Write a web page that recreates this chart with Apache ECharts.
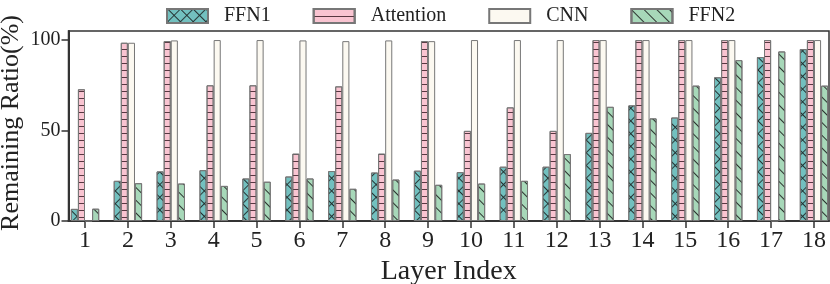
<!DOCTYPE html>
<html>
<head>
<meta charset="utf-8">
<script src="https://cdn.jsdelivr.net/npm/echarts@6/dist/echarts.min.js"></script>
<style>html,body{margin:0;padding:0;background:#fff}#c{width:830px;height:284px}</style>
</head>
<body>
<div id="c"></div>
<script>
const layers = [1,2,3,4,5,6,7,8,9,10,11,12,13,14,15,16,17,18];
const ffn1 = [6.7, 22.2, 27.4, 28.1, 23.5, 24.6, 27.6, 26.8, 27.8, 27.0, 30.0, 30.0, 48.7, 63.9, 57.2, 79.4, 90.6, 95.0];
const attention = [72.8, 98.5, 99.4, 75.0, 75.0, 37.2, 74.4, 37.2, 99.4, 49.8, 62.8, 49.8, 100, 100, 100, 100, 100, 100];
const cnn = [0, 98.5, 99.8, 100, 100, 99.8, 99.4, 99.8, 99.4, 100, 100, 100, 100, 100, 100, 100, 0, 100];
const ffn2 = [6.8, 20.9, 20.7, 19.4, 21.7, 23.5, 17.8, 22.9, 20.0, 20.7, 22.2, 37.0, 63.1, 56.7, 74.8, 88.9, 93.7, 74.8];
const yTicks = [0, 50, 100];
const seriesNames = ['FFN1', 'Attention', 'CNN', 'FFN2'];

const FONT = 'Liberation Serif';
const TXT = '#222';
const chart = echarts.init(document.getElementById('c'), null, {renderer: 'canvas'});

const hatchColor = 'rgba(20,20,20,0.85)';
const decals = {
  FFN1: {symbol: 'path://M0,0H1V10H0Z M0,9H10V10H0Z', dashArrayX: [9, 0], dashArrayY: [9, 0], rotation: Math.PI / 4, color: hatchColor, symbolSize: 1, symbolKeepAspect: false},
  Attention: {symbol: 'rect', dashArrayX: [1, 0], dashArrayY: [1, 6], rotation: 0, color: 'rgba(60,30,40,0.85)'},
  FFN2: {symbol: 'rect', dashArrayX: [1, 0], dashArrayY: [1, 8], rotation: Math.PI / 4, color: hatchColor}
};
const colors = {FFN1: '#72c0bf', Attention: '#f9c4d1', CNN: '#fcf9f1', FFN2: '#a7d8b9'};
const values = {FFN1: ffn1, Attention: attention, CNN: cnn, FFN2: ffn2};

const series = seriesNames.map(name => ({
  name: name,
  type: 'bar',
  barWidth: 7.1,
  barGap: '0%',
  data: layers.map((l, i) => [l, values[name][i]]),
  itemStyle: {
    color: colors[name],
    borderColor: '#777',
    borderWidth: 1,
    decal: decals[name]
  }
}));

chart.setOption({
  animation: false,
  backgroundColor: '#fff',
  legend: {
    top: 6,
    left: 166,
    padding: 0,
    itemWidth: 41,
    itemHeight: 14,
    itemGap: 42,
    icon: 'rect',
    textStyle: {fontFamily: FONT, fontSize: 20, color: TXT, padding: [0, 0, 0, 11]},
    data: seriesNames
  },
  grid: {
    left: 68.5, right: 1, top: 31, bottom: 63,
    outerBoundsMode: 'none',
    containLabel: false,
    show: true, borderColor: '#333', borderWidth: 1.5, backgroundColor: 'transparent'
  },
  xAxis: {
    type: 'value',
    min: 0.615,
    max: 18.35,
    splitLine: {show: false},
    axisLine: {show: true, onZero: false, lineStyle: {color: '#333', width: 2}},
    axisTick: {show: true, length: 7, customValues: layers, lineStyle: {color: '#333', width: 1.5}},
    axisLabel: {customValues: layers, fontFamily: FONT, fontSize: 24, color: TXT, margin: 8},
    name: 'Layer Index',
    nameLocation: 'middle',
    nameGap: 37,
    nameMoveOverlap: false,
    nameTextStyle: {fontFamily: FONT, fontSize: 28, color: TXT}
  },
  yAxis: {
    type: 'value',
    min: 0,
    max: 105,
    interval: 50,
    splitLine: {show: false},
    axisLine: {show: true, lineStyle: {color: '#333', width: 2}},
    axisTick: {show: true, length: 7, customValues: yTicks, lineStyle: {color: '#333', width: 1.5}},
    axisLabel: {customValues: yTicks, fontFamily: FONT, fontSize: 20, color: TXT, margin: 8},
    name: 'Remaining Ratio(%)',
    nameLocation: 'middle',
    nameGap: 44,
    nameMoveOverlap: false,
    nameTextStyle: {fontFamily: FONT, fontSize: 26, color: TXT, padding: [0, 0, 0, 6]}
  },
  series: series
});
</script>
</body>
</html>
